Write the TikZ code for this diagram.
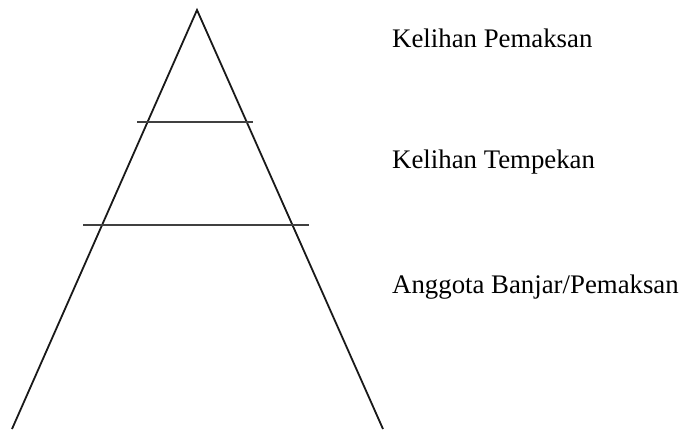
\documentclass[tikz,border=0pt]{standalone}
\usepackage{fontspec}
\setmainfont{Liberation Serif}
\begin{document}
\begin{tikzpicture}[x=1pt,y=-1pt,
  edge/.style={line width=1.8pt,black!90},
  level/.style={line width=1.8pt,black!75},
  lbl/.style={anchor=base west,inner sep=0pt,font=\fontsize{26.8}{32}\selectfont}]
\useasboundingbox (0,0) rectangle (684,429);
\coordinate (apex) at (197,10);
\coordinate (bl) at (12,429);
\coordinate (br) at (383,429);
\coordinate (u1) at (137,122);
\coordinate (u2) at (253,122);
\coordinate (l1) at (83,225);
\coordinate (l2) at (309,225);
\draw[edge] (bl) -- (apex) -- (br);
\draw[level] (u1) -- (u2);
\draw[level] (l1) -- (l2);
\node[lbl] (t1) at (392,47) {Kelihan Pemaksan};
\node[lbl] (t2) at (392,168) {Kelihan Tempekan};
\node[lbl] (t3) at (392,293) {Anggota Banjar/Pemaksan};
\end{tikzpicture}
\end{document}
